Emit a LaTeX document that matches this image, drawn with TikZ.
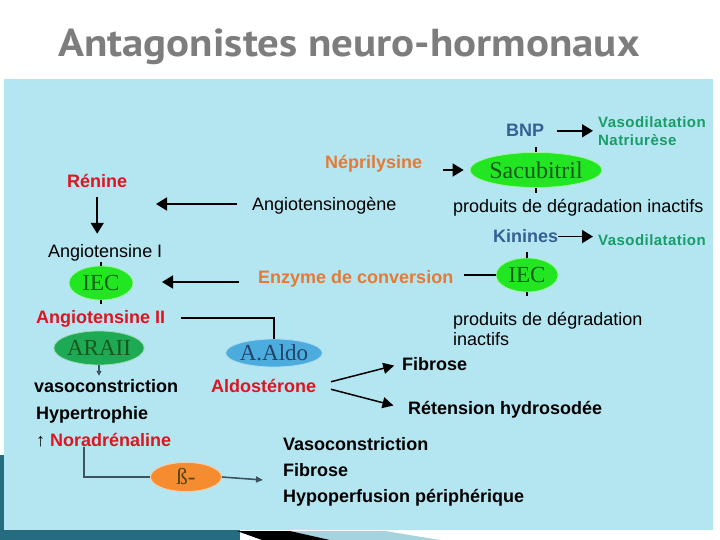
\documentclass[tikz,border=0pt]{standalone}
\usepackage{fontspec}
\setmainfont{Liberation Sans}
\newfontfamily\drugfont{Liberation Serif}
\newfontfamily\titlefont{PT Sans}[FakeStretch=1.1]
\usepackage{tikz}
\usetikzlibrary{shapes.geometric, arrows.meta, positioning}
\definecolor{panelblue}{RGB}{180, 230, 241}
\definecolor{titlegray}{RGB}{125, 125, 125}
\definecolor{hormonered}{RGB}{222, 20, 32}
\definecolor{enzymeorange}{RGB}{230, 122, 52}
\definecolor{peptideblue}{RGB}{52, 96, 148}
\definecolor{effectgreen}{RGB}{24, 156, 104}
\definecolor{limefill}{RGB}{34, 230, 34}
\definecolor{drugtext}{RGB}{24, 88, 30}
\definecolor{araiifill}{RGB}{30, 170, 84}
\definecolor{aldofill}{RGB}{76, 172, 222}
\definecolor{betafill}{RGB}{246, 140, 48}
\definecolor{slateline}{RGB}{60, 84, 94}
\definecolor{themeteal}{RGB}{38, 108, 128}

\begin{document}
\begin{tikzpicture}[
    x=1pt, y=-1pt,
    txt/.style={inner sep=0pt, anchor=base west, font=\fontsize{18}{21}\selectfont},
    btxt/.style={inner sep=0pt, anchor=base west, font=\fontsize{18}{21}\selectfont\bfseries},
    effect/.style={inner sep=0pt, anchor=base west, align=left, text=effectgreen, font=\fontsize{15}{18}\selectfont\bfseries\addfontfeature{LetterSpace=3}},
    drug/.style={ellipse, inner sep=0pt, draw=white!55!#1, line width=0.8pt, fill=#1, text=drugtext, font=\drugfont\fontsize{23}{23}\selectfont},
    arrow/.style={-{Triangle[length=11pt, width=13pt]}, line width=1.8pt, black},
    split/.style={-{Triangle[length=11pt, width=11pt]}, line width=1.5pt, black},
    link/.style={line width=1.8pt, black},
    tick/.style={line width=1.3pt, black},
    slate/.style={line width=1.6pt, slateline}
]
    \useasboundingbox (0,0) rectangle (720,540);

    % Background
    \fill[white] (0,0) rectangle (720,540);
    \fill[panelblue] (4,79) rectangle (713,530);
    \fill[themeteal] (0,455) rectangle (4,540);
    \fill[themeteal] (0,530) rectangle (240,540);
    \fill[black!8!panelblue] (290,531) -- (385,531) -- (440,540) -- (330,540) -- cycle;
    \fill[black] (237,531) -- (290,531) -- (330,540) -- (262,540) -- cycle;

    % Title
    \node[inner sep=0pt, anchor=base, text=titlegray, font=\titlefont\fontsize{39}{40}\selectfont\bfseries] (title) at (349,57) {Antagonistes neuro-hormonaux};

    % Nodes - neprilysin side
    \node[btxt, text=peptideblue] (bnp) at (506,137) {BNP};
    \node[effect] (vasoA) at (598,146) {Vasodilatation\\Natriurèse};
    \node[drug=limefill, minimum width=102pt, minimum height=35pt, font=\drugfont\fontsize{24}{24}\selectfont] (sacubitril) at (536,170) {Sacubitril};
    \node[btxt, text=enzymeorange] (nep) at (325,169) {Néprilysine};
    \node[txt] (produitsA) at (453,212) {produits de dégradation inactifs};
    \node[btxt, text=peptideblue] (kinines) at (493,243) {Kinines};
    \node[effect] (vasoB) at (598,245) {Vasodilatation};
    \node[drug=limefill, minimum width=62pt, minimum height=34pt] (iecR) at (527,275) {IEC};
    \node[txt, align=left, font=\fontsize{18}{20}\selectfont] (produitsB) at (453,345) {produits de dégradation\\inactifs};

    % Nodes - renin side
    \node[btxt, text=hormonered] (renine) at (67,188) {Rénine};
    \node[txt] (agt) at (252,211) {Angiotensinogène};
    \node[txt] (angI) at (48,257) {Angiotensine I};
    \node[drug=limefill, minimum width=64pt, minimum height=34pt] (iecL) at (101,283) {IEC};
    \node[btxt, text=enzymeorange] (enzyme) at (258,283) {Enzyme de conversion};
    \node[btxt, text=hormonered] (angII) at (36,323) {Angiotensine II};
    \node[drug=araiifill, minimum width=65pt, minimum height=34pt] (araii) at (99,348) {ARAII};
    \node[drug=aldofill, minimum width=84pt, minimum height=28pt, text=peptideblue!70!black] (aaldo) at (274,353) {A.Aldo};

    % Nodes - effects
    \node[btxt] (vasocons) at (34,392) {vasoconstriction};
    \node[btxt, text=hormonered] (aldo) at (211,392) {Aldostérone};
    \node[btxt] (fibrose) at (402,370) {Fibrose};
    \node[btxt] (retention) at (408,414) {Rétension hydrosodée};
    \node[btxt] (hypertro) at (36,419) {Hypertrophie};
    \node[btxt] (noradr) at (36,446) {↑ \textcolor{hormonered}{Noradrénaline}};
    \node[drug=betafill, minimum width=71pt, minimum height=29pt, text=drugtext!50!betafill!60!black] (beta) at (186,477) {ß-};
    \node[btxt, align=left, font=\fontsize{18}{26}\selectfont\bfseries] (effects) at (283,502) {Vasoconstriction\\Fibrose\\Hypoperfusion périphérique};

    % Free ends
    \coordinate (agtend) at (156,204);
    \coordinate (enzend) at (162,282);
    \coordinate (betaend) at (263,480);

    % Arrows
    \draw[arrow, shorten <=13pt, shorten >=5pt] (bnp.east) -- (bnp.east -| vasoA.west);
    \draw[arrow, shorten <=21pt, shorten >=6pt] (nep.east |- sacubitril.west) -- (sacubitril.west);
    \draw[arrow, shorten >=5pt] (kinines.east) -- (kinines.east -| vasoB.west);
    \draw[arrow, shorten <=15pt] (agt.west |- agtend) -- (agtend);
    \draw[arrow, shorten <=19pt] (enzyme.west |- enzend) -- (enzend);
    \draw[arrow, shorten <=9pt, shorten >=10pt] (renine.south) -- (renine.south |- angI.north);
    \draw[link, shorten <=11pt] (enzyme.east |- iecR.west) -- (iecR.west);
    \draw[link, shorten <=16pt] (angII.east) -| (aaldo.north);
    \draw[split, shorten <=15pt, shorten >=8pt] (aldo.east) -- (fibrose.west);
    \draw[split, shorten <=15pt, shorten >=15pt] (aldo.east) -- (retention.west);
    \draw[line width=1.4pt, slateline, -{Triangle[length=5pt, width=5pt]}, shorten >=3pt] (araii.south) -- (araii.south |- vasocons.north);
    \draw[slate] ([xshift=48pt]noradr.south west) |- (beta.west);
    \draw[slate, -{Triangle[length=7pt, width=6pt]}] (beta.east) -- (betaend);

    % Ticks
    \draw[tick] (sacubitril.north) -- ++(0,-5);
    \draw[tick] (sacubitril.south) -- ++(0,5);
    \draw[tick] (iecR.north) -- ++(0,-6);
    \draw[tick] (iecR.south) -- ++(0,4);
    \draw[tick] (iecL.north) -- ++(0,-4);
    \draw[tick] (iecL.south) -- ++(0,4);
\end{tikzpicture}
\end{document}
